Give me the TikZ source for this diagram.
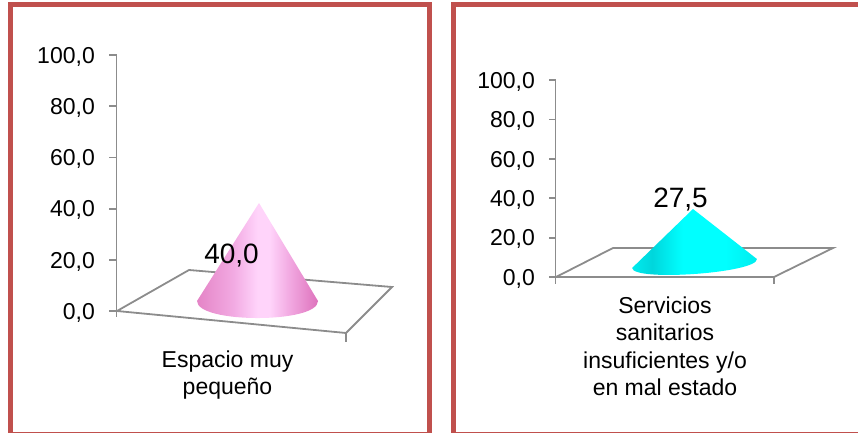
\documentclass[tikz,border=0pt]{standalone}
\usepackage{fontspec}
\setmainfont{Liberation Sans}
\definecolor{frameRed}{RGB}{192,80,77}
\definecolor{axisGray}{RGB}{140,140,140}
\definecolor{pkA}{RGB}{228,132,198}
\definecolor{pkB}{RGB}{242,170,226}
\definecolor{pkC}{RGB}{255,212,250}
\definecolor{pkD}{RGB}{222,114,188}
\definecolor{cyA}{RGB}{0,236,238}
\definecolor{cyB}{RGB}{0,214,220}
\definecolor{cyC}{RGB}{0,255,255}
\pgfdeclarehorizontalshading{pinkcone}{100bp}{color(0bp)=(pkA); color(25bp)=(pkA); color(40bp)=(pkB); color(50bp)=(pkC); color(55bp)=(pkC); color(63bp)=(pkB); color(75bp)=(pkD); color(100bp)=(pkD)}
\pgfdeclarehorizontalshading{cyancone}{100bp}{color(0bp)=(cyA); color(25bp)=(cyA); color(33bp)=(cyB); color(45bp)=(cyC); color(62bp)=(cyC); color(75bp)=(cyA); color(100bp)=(cyA)}
\tikzset{
  frame/.style={draw=frameRed, line width=5pt},
  axisline/.style={draw=axisGray, line width=1.8pt},
  ticklab/.style={inner sep=0pt, anchor=base east, font=\fontsize{23}{27.5}\selectfont},
  datalab/.style={inner sep=0pt, anchor=base, font=\fontsize{28}{32}\selectfont},
  catlab/.style={inner sep=0pt, anchor=north, align=center, font=\fontsize{23}{27.5}\selectfont}
}
\begin{document}
\begin{tikzpicture}[x=1pt,y=-1pt]
\useasboundingbox (0,0) rectangle (858,433);
\begin{scope}
  \clip (0,0) rectangle (858,433);
  \draw[frame] (10,4.8) rectangle (429.8,434.5);
  \draw[frame] (453.5,4.8) rectangle (866,434.5);
\end{scope}

% ---------- left chart ----------
\draw[axisline] (116.5,55) -- (116.5,317);
\foreach \yy in {311,259.8,208.6,157.4,106.2,55} {
  \draw[axisline] (109,\yy) -- (116.5,\yy);
}
\draw[axisline] (117,311) -- (189,270) -- (392,287) -- (346,333) -- cycle;
\draw[axisline] (346,333) -- (346,342);
\node[ticklab] (l0) at (95,319.3) {0,0};
\node[ticklab] (l1) at (95,268.1) {20,0};
\node[ticklab] (l2) at (95,216.9) {40,0};
\node[ticklab] (l3) at (95,165.7) {60,0};
\node[ticklab] (l4) at (95,114.5) {80,0};
\node[ticklab] (l5) at (95,63.3) {100,0};
\path[shading=pinkcone] (259,203) -- (197,301) .. controls (197,323.7) and (318,323.7) .. (318,301) -- cycle;
\node[datalab] (d1) at (231.5,263) {40,0};
\node[catlab] (c1) at (227.5,350.3) {Espacio muy\\pequeño};

% ---------- right chart ----------
\draw[axisline] (555.5,80) -- (555.5,284);
\foreach \yy in {277,237.6,198.2,158.8,119.4,80} {
  \draw[axisline] (549,\yy) -- (555.5,\yy);
}
\draw[axisline] (556,277) -- (613,248) -- (833,248) -- (774,277) -- cycle;
\draw[axisline] (774,277) -- (774,284);
\node[ticklab] (r0) at (535,285.3) {0,0};
\node[ticklab] (r1) at (535,245.9) {20,0};
\node[ticklab] (r2) at (535,206.5) {40,0};
\node[ticklab] (r3) at (535,167.1) {60,0};
\node[ticklab] (r4) at (535,127.7) {80,0};
\node[ticklab] (r5) at (535,88.3) {100,0};
\path[shading=cyancone] (693,209) -- (632.1,268) .. controls (633.1,281.9) and (757.9,272.9) .. (756.9,259) -- cycle;
\node[datalab] (d2) at (680.5,207) {27,5};
\node[catlab] (c2) at (665,296.4) {Servicios\\sanitarios\\insuficientes y/o\\en mal estado};
\end{tikzpicture}
\end{document}
